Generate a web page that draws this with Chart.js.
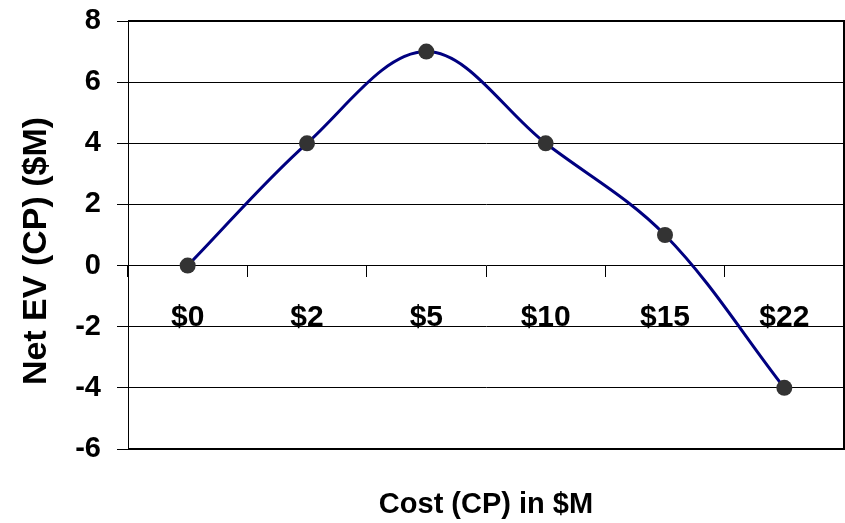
<!DOCTYPE html>
<html>
<head>
<meta charset="utf-8">
<script src="https://cdn.jsdelivr.net/npm/chart.js@4/dist/chart.umd.min.js"></script>
<style>
  html, body { margin: 0; padding: 0; background: #fff; }
  #wrap { position: relative; width: 845px; height: 523px; }
</style>
</head>
<body>
<div id="wrap"><canvas id="c" width="845" height="523"></canvas></div>
<script>
// Cost of the contingency plan (in $M) and the resulting net expected value
const costLabels = ['$0', '$2', '$5', '$10', '$15', '$22'];
const netEV = [0, 4, 7, 4, 1, -4];
const yTicks = [-6, -4, -2, 0, 2, 4, 6, 8];

const xTitle = 'Cost (CP) in $M';
const yTitle = 'Net EV (CP) ($M)';

const FONT = '"Liberation Sans", Arial, Helvetica, sans-serif';

// Plot frame and the two axis titles
const framePlugin = {
  id: 'frame',
  afterDraw(chart) {
    const { ctx, chartArea: a } = chart;
    ctx.save();
    ctx.strokeStyle = '#000';
    ctx.lineWidth = 2;
    ctx.beginPath();
    ctx.moveTo(a.left, a.top);
    ctx.lineTo(a.right, a.top);
    ctx.lineTo(a.right, a.bottom);
    ctx.lineTo(a.left, a.bottom);
    ctx.stroke();

    ctx.fillStyle = '#000';
    ctx.textAlign = 'center';
    ctx.textBaseline = 'middle';
    ctx.font = 'bold 29px ' + FONT;
    ctx.fillText(xTitle, (a.left + a.right) / 2, 505);

    ctx.translate(37, 251);
    ctx.rotate(-Math.PI / 2);
    ctx.font = 'bold 34px ' + FONT;
    ctx.fillText(yTitle, 0, 0);
    ctx.restore();
  }
};

new Chart(document.getElementById('c'), {
  type: 'line',
  data: {
    labels: costLabels,
    datasets: [{
      data: netEV,
      borderColor: '#000080',
      borderWidth: 3,
      tension: 0.35,
      fill: false,
      pointRadius: 8,
      pointHoverRadius: 8,
      pointBackgroundColor: '#333333',
      pointBorderWidth: 0,
      clip: false
    }]
  },
  options: {
    responsive: false,
    animation: false,
    events: [],
    layout: { autoPadding: false, padding: { top: 21, right: 1, bottom: 74, left: 0 } },
    plugins: { legend: { display: false }, tooltip: { enabled: false } },
    scales: {
      x: {
        type: 'category',
        offset: true,
        position: { y: 0 },
        afterFit(scale) { scale.paddingLeft = 0; scale.paddingRight = 0; },
        border: { display: false },
        grid: {
          offset: true,
          drawOnChartArea: false,
          drawTicks: true,
          tickLength: 11,
          color: '#000',
          lineWidth: 1
        },
        ticks: {
          color: '#000',
          padding: 23,
          maxRotation: 0,
          font: { family: FONT, size: 30, weight: 'bold' }
        }
      },
      y: {
        min: -6,
        max: 8,
        afterFit(scale) { scale.width = 128; scale.paddingTop = 0; scale.paddingBottom = 0; },
        afterBuildTicks(scale) { scale.ticks = yTicks.map(v => ({ value: v })); },
        border: { display: true, color: '#000', width: 1 },
        grid: {
          color: '#000',
          lineWidth: 1,
          drawTicks: true,
          tickLength: 11
        },
        ticks: {
          color: '#000',
          padding: 16,
          font: { family: FONT, size: 29, weight: 'bold' }
        }
      }
    }
  },
  plugins: [framePlugin]
});
</script>
</body>
</html>
